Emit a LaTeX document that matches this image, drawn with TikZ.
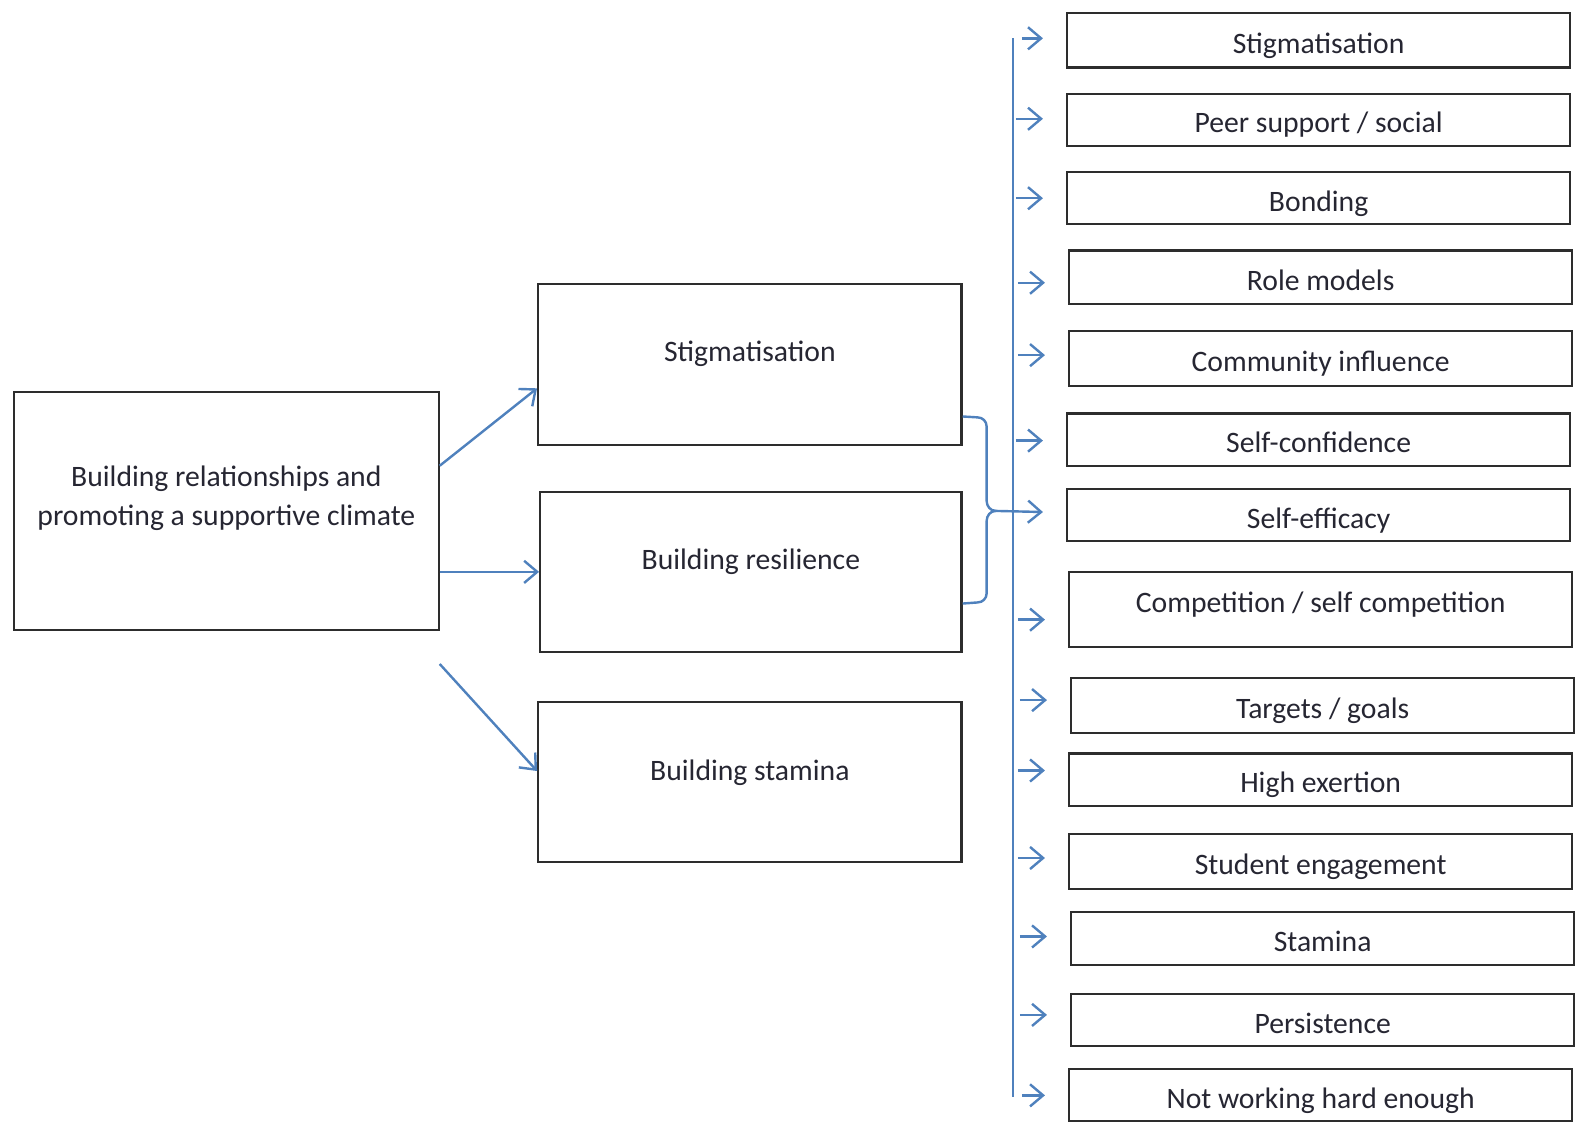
\documentclass[tikz,border=0pt]{standalone}
\usepackage{fontspec}
\setmainfont{Carlito}
\usetikzlibrary{arrows.meta}
\definecolor{lineblue}{RGB}{79,129,189}
\definecolor{boxline}{RGB}{45,45,45}
\definecolor{textcol}{RGB}{38,38,50}
\begin{document}
\begin{tikzpicture}[x=1pt,y=-1pt,
  box/.style={draw=boxline, line width=2.2pt, rectangle, inner sep=0pt, anchor=north west,
    font=\fontsize{29.5}{39}\selectfont, text=textcol, align=center, text height=26pt, text depth=0pt},
  rbox/.style={box, minimum width=500pt},
  conn/.style={draw=lineblue, line width=2.4pt},
  arr/.style={conn, -{Straight Barb[length=13pt,width=22pt]}}]
\useasboundingbox (0,0) rectangle (1568,1115);

% left and middle boxes
\node[box, minimum width=422pt, minimum height=236pt, text height=29pt, text depth=0pt] (L) at (13,389)
  {Building relationships and\\promoting a supportive climate};
\node[box, minimum width=421pt, minimum height=160pt, text depth=32pt] (S) at (534,281) {Stigmatisation};
\node[box, minimum width=419pt, minimum height=159pt, text depth=31pt] (R) at (536,488) {Building resilience};
\node[box, minimum width=421pt, minimum height=159pt, text depth=29pt] (T) at (534,697) {Building stamina};

% right column
\node[rbox, minimum height=54pt] (E1) at (1060,12) {Stigmatisation};
\node[rbox, minimum height=52pt] (E2) at (1060,92) {Peer support / social};
\node[rbox, minimum height=52pt] (E3) at (1060,170) {Bonding};
\node[rbox, minimum height=53pt] (E4) at (1062,248) {Role models};
\node[rbox, minimum height=55pt] (E5) at (1062,328) {Community influence};
\node[rbox, minimum height=52pt] (E6) at (1060,410) {Self-confidence};
\node[rbox, minimum height=52pt] (E7) at (1060,485) {Self-efficacy};
\node[rbox, minimum height=74pt, text depth=20pt] (E8) at (1062,568) {Competition / self competition};
\node[rbox, minimum height=55pt] (E9) at (1064,673) {Targets / goals};
\node[rbox, minimum height=52pt] (E10) at (1062,748) {High exertion};
\node[rbox, minimum height=55pt] (E11) at (1062,828) {Student engagement};
\node[rbox, minimum height=52pt] (E12) at (1064,906) {Stamina};
\node[rbox, minimum height=52pt] (E13) at (1064,987) {Persistence};
\node[rbox, minimum height=52pt] (E14) at (1062,1062) {Not working hard enough};

% arrows from left box
\draw[arr] ([yshift=45pt]L.east) -- ([yshift=-24pt]S.west);
\draw[arr] (L.east |- R.west) -- (R.west);
\draw[arr] ([yshift=-33pt]L.south east) -- ([yshift=11pt]T.west);

% vertical line
\coordinate (vtop) at (1007,38);
\coordinate (vbot) at (1007,1091);
\draw[conn] (vtop) -- (vbot);

% bracket into Self-efficacy
\coordinate (cusp) at (990,508);
\draw[conn] ([yshift=-52pt]S.east) -- (972,415) to[out=0,in=90] (981,424) -- (981,498) to[out=-90,in=180] (cusp);
\draw[conn] ([yshift=-31.5pt]R.east) -- (972,599) to[out=0,in=-90] (981,590) -- (981,518) to[out=90,in=180] (cusp);
\draw[arr] (cusp) -- ([xshift=-23pt,yshift=3pt]E7.west);

% ticks
\draw[arr] ([xshift=-44pt,yshift=2pt]E1.west) -- ([xshift=-23pt,yshift=2pt]E1.west);
\foreach \n/\dy in {2/1,3/0,4/-5.5,5/3.5,6/-1,8/-10,9/5.5,10/9,11/3.5,12/2,13/5}
  \draw[arr] ([xshift=-50pt,yshift=\dy pt]E\n.west) -- ([xshift=-23pt,yshift=\dy pt]E\n.west);
\draw[arr] ([xshift=-46pt]E14.west) -- ([xshift=-23pt]E14.west);
\end{tikzpicture}
\end{document}
